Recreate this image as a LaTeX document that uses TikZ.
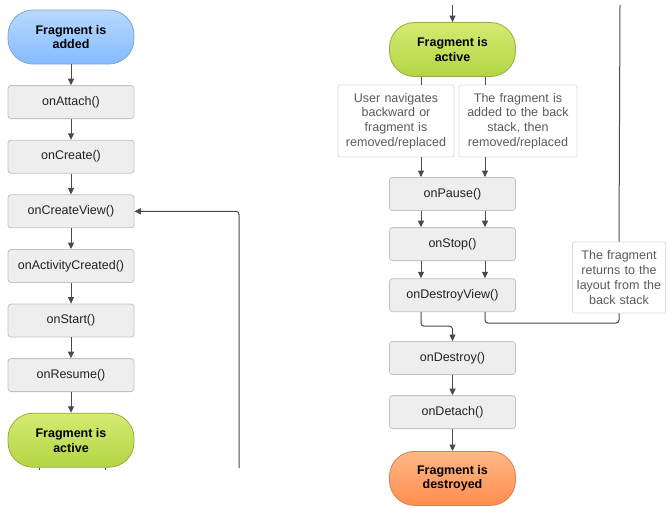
\documentclass[tikz,border=0pt]{standalone}
\usepackage{fontspec}
\setmainfont{Liberation Sans}
\usetikzlibrary{positioning, arrows.meta}

\definecolor{boxfill}{HTML}{EEEEEE}
\definecolor{boxline}{HTML}{C2C2C2}
\definecolor{methodtext}{HTML}{222222}
\definecolor{noteline}{HTML}{DDDDDD}
\definecolor{notetext}{HTML}{5A5A5A}
\definecolor{arrowgray}{HTML}{4A4A4A}
\definecolor{bluetop}{HTML}{B8D9FF}
\definecolor{bluebottom}{HTML}{84BBFF}
\definecolor{bluedraw}{HTML}{7EA6D6}
\definecolor{greentop}{HTML}{D4EB72}
\definecolor{greenbottom}{HTML}{B3D545}
\definecolor{greendraw}{HTML}{93AE3E}
\definecolor{orangetop}{HTML}{FFB887}
\definecolor{orangebottom}{HTML}{FF8D4D}
\definecolor{orangedraw}{HTML}{D58052}

\begin{document}
\begin{tikzpicture}[x=1pt, y=1pt, node distance=20.8pt,
    >={Triangle[length=6.5pt,width=6pt]},
    every node/.style={font=\fontsize{12.5}{14.7}\selectfont},
    method/.style={draw=boxline, fill=boxfill, rounded corners=3pt, line width=0.8pt,
        minimum width=126pt, minimum height=33pt, inner sep=2pt, text=methodtext},
    pill/.style={rounded corners=25pt, line width=0.8pt, minimum width=126pt,
        minimum height=54pt, align=center, text=black,
        font=\fontsize{12.5}{14.7}\selectfont\bfseries},
    addedpill/.style={pill, draw=bluedraw, top color=bluetop, bottom color=bluebottom},
    activepill/.style={pill, draw=greendraw, top color=greentop, bottom color=greenbottom},
    destroyedpill/.style={pill, draw=orangedraw, top color=orangetop, bottom color=orangebottom},
    note/.style={draw=noteline, fill=white, rounded corners=1.5pt, line width=0.8pt,
        align=center, text=notetext, inner sep=3pt},
    line/.style={color=arrowgray, line width=1pt}]

    \useasboundingbox (0,0) rectangle (666,-507);

    % left column
    \node[addedpill] (added) at (71,-37) {Fragment is\\added};
    \node[method] (attach) [below=of added] {onAttach()};
    \node[method] (create) [below=of attach] {onCreate()};
    \node[method] (cview) [below=of create] {onCreateView()};
    \node[method] (actcreated) [below=of cview] {onActivityCreated()};
    \node[method] (start) [below=of actcreated] {onStart()};
    \node[method] (resume) [below=of start] {onResume()};
    \node[activepill] (active) [below=of resume] {Fragment is\\active};

    \path[line, ->]
    (added) edge (attach)
    (attach) edge (create)
    (create) edge (cview)
    (cview) edge (actcreated)
    (actcreated) edge (start)
    (start) edge (resume)
    (resume) edge (active);

    \draw[line] ([xshift=-32pt]active.south) -- ++(0,-2.5);
    \draw[line] ([xshift=34pt]active.south) -- ++(0,-2.5);

    \coordinate (loopend) at (239,-468);
    \draw[line, ->, rounded corners=3pt] (loopend) |- (cview.east);

    % right column
    \coordinate (laneA) at (421,0);
    \coordinate (laneB) at (485,0);
    \coordinate (topin) at (452.5,-5);
    \coordinate (backtop) at (620,-5);

    \node[activepill] (ractive) at (452.5,-49.5) {Fragment is\\active};
    \node[note, text width=110pt, minimum height=72pt] (userback) at (396,-121)
        {User navigates\\backward or\\fragment is\\removed/replaced};
    \node[note, text width=112pt, minimum height=72pt] (addback) at (518,-121)
        {The fragment is\\added to the back\\stack, then\\removed/replaced};
    \node[method] (pause) at (452.5,-194) {onPause()};
    \node[method] (stop) [below=16.3pt of pause] {onStop()};
    \node[method] (dview) [below=17.3pt of stop] {onDestroyView()};
    \node[method] (destroy) [below=29pt of dview] {onDestroy()};
    \node[method] (detach) [below=20.3pt of destroy] {onDetach()};
    \node[destroyedpill] (destroyed) [below=22pt of detach] {Fragment is\\destroyed};
    \node[note, text width=90pt, minimum height=71pt, inner sep=1.5pt] (backnote) at (619,-277.5)
        {The fragment\\returns to the\\layout from the\\back stack};

    \draw[line, ->] (topin) -- (ractive);
    \draw[line] (ractive.south -| laneA) -- (userback.north -| laneA);
    \draw[line] (ractive.south -| laneB) -- (addback.north -| laneB);

    \path[line, ->]
    (userback.south -| laneA) edge (pause.north -| laneA)
    (addback.south -| laneB) edge (pause.north -| laneB)
    (pause.south -| laneA) edge (stop.north -| laneA)
    (pause.south -| laneB) edge (stop.north -| laneB)
    (stop.south -| laneA) edge (dview.north -| laneA)
    (stop.south -| laneB) edge (dview.north -| laneB)
    (destroy) edge (detach)
    (detach) edge (destroyed);

    \draw[line, ->, rounded corners=3pt] (dview.south -| laneA) -- ++(0,-14) -| (destroy.north);
    \draw[line, rounded corners=3pt] (dview.south -| laneB) -- ++(0,-11) -| (backnote.south);
    \draw[line] (backnote.north) -- (backtop);
\end{tikzpicture}
\end{document}
